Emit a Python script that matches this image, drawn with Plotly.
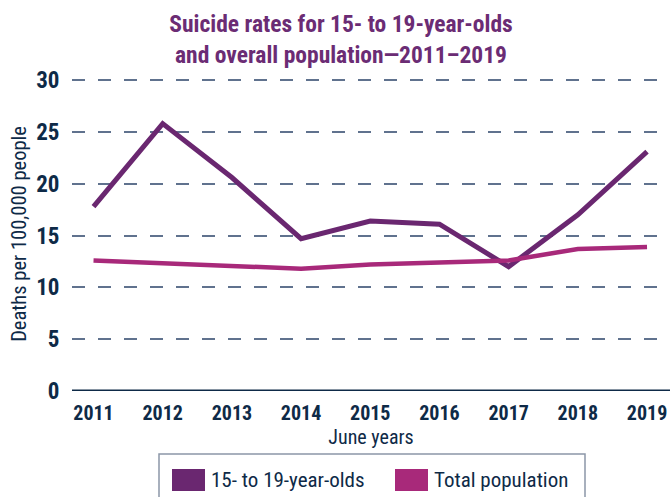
import plotly.graph_objects as go

years = [2011, 2012, 2013, 2014, 2015, 2016, 2017, 2018, 2019]
youth_rates = [17.8, 25.8, 20.6, 14.7, 16.4, 16.1, 12.0, 17.0, 23.1]
total_rates = [12.6, 12.3, 12.1, 11.8, 12.2, 12.4, 12.6, 13.7, 13.9]
series_names = ["15- to 19-year-olds", "Total population"]
y_ticks = [0, 5, 10, 15, 20, 25, 30]

PURPLE = "#6A2770"
PINK = "#A8297A"
NAVY = "#0E2A47"
FONT = "Roboto Condensed, Roboto, sans-serif"

W, H = 670, 497
L, R, T, B = 72, 0, 77, 106
PW, PH = W - L - R, H - T - B


def px(x):
    return (x - L) / PW


def py(y):
    return (H - B - y) / PH


fig = go.Figure()
fig.add_trace(go.Scatter(x=years, y=youth_rates, mode="lines", name=series_names[0],
                         line=dict(color=PURPLE, width=5), showlegend=False, cliponaxis=False))
fig.add_trace(go.Scatter(x=years, y=total_rates, mode="lines", name=series_names[1],
                         line=dict(color=PINK, width=4.5), showlegend=False, cliponaxis=False))

shapes = []
shapes.append(dict(type="line", xref="paper", yref="y", x0=0, x1=1, y0=0, y1=0,
                   line=dict(color=NAVY, width=3), layer="above"))
shapes.append(dict(type="rect", xref="paper", yref="paper", x0=px(159), x1=px(585),
                   y0=py(454), y1=py(520), line=dict(color="#8C97A8", width=1.5),
                   fillcolor="rgba(0,0,0,0)"))
swatches = [(172, 205, PURPLE), (395, 428, PINK)]
annotations = []
text_x = [209, 432]
for (x0, x1, c), name, tx in zip(swatches, series_names, text_x):
    shapes.append(dict(type="rect", xref="paper", yref="paper", x0=px(x0), x1=px(x1),
                       y0=py(491), y1=py(469), line=dict(width=0), fillcolor=c))
    annotations.append(dict(xref="paper", yref="paper", x=px(tx), y=py(480), text=name,
                            showarrow=False, xanchor="left", yanchor="middle",
                            font=dict(family=FONT, size=21, color=NAVY)))

fig.update_layout(
    width=W, height=H,
    margin=dict(l=L, r=R, t=T, b=B),
    paper_bgcolor="white", plot_bgcolor="white",
    title=dict(text="Suicide rates for 15- to 19-year-olds<br>and overall population\u20142011\u20132019",
               x=0.509, xanchor="center", y=0.935, yanchor="top",
               font=dict(family=FONT, size=23.5, color="#6B2C74", weight="bold")),
    xaxis=dict(range=[2010.689, 2019.332], tickmode="array", tickvals=years,
               ticktext=[str(y) for y in years], showgrid=False, zeroline=False,
               showline=False, ticks="outside", ticklen=4, tickcolor="rgba(0,0,0,0)",
               ticklabeloverflow="allow",
               tickfont=dict(family=FONT, size=20, color=NAVY, weight="bold"),
               title=dict(text="June years", standoff=5,
                          font=dict(family=FONT, size=20, color=NAVY))),
    yaxis=dict(range=[0, 30.3], tickmode="array", tickvals=y_ticks, showgrid=True,
               gridcolor="#60728E", gridwidth=1.6, griddash="13px,13px",
               zeroline=False, showline=False, ticks="outside", ticklen=7,
               tickcolor="rgba(0,0,0,0)",
               tickfont=dict(family=FONT, size=23, color=NAVY, weight="bold"),
               title=dict(text="Deaths per 100,000 people", standoff=3,
                          font=dict(family=FONT, size=20.5, color=NAVY))),
    shapes=shapes, annotations=annotations, showlegend=False,
)

fig.write_html("out.html")
